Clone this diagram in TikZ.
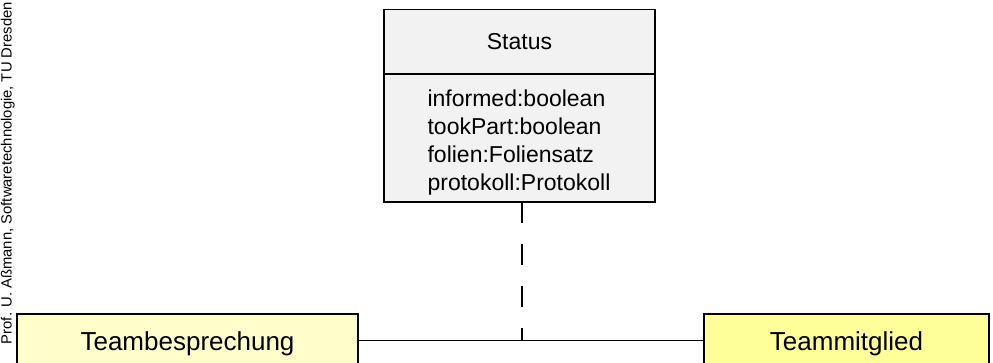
\documentclass[tikz,border=0pt]{standalone}
\usepackage{fontspec}
\setmainfont{Liberation Sans}
\definecolor{classgray}{HTML}{F2F2F2}
\definecolor{paleyellow}{HTML}{FFFFCC}
\definecolor{lightyellow}{HTML}{FFFF99}
\begin{document}
\begin{tikzpicture}[x=1bp,y=-1bp,
  classbox/.style={draw=black, line width=1.5bp, inner sep=0pt, outer sep=0pt},
  titlefont/.style={font=\fontsize{23bp}{28.3bp}\selectfont},
  bigclass/.style={classbox, font=\fontsize{26bp}{30bp}\selectfont,
                   minimum height=53.4bp, text height=18.6bp, text depth=0pt},
  assoc/.style={line width=1.3bp},
  assocclass/.style={line width=1.5bp, dash pattern=on 20.5bp off 21.5bp}]
\clip (0,0) rectangle (993,362);

% association class Status: name compartment and attribute compartment
\node[classbox, titlefont, fill=classgray, minimum width=271bp, minimum height=64.5bp]
  (stitle) at (519.5,41.75) {Status};
\node[classbox, fill=classgray, anchor=north, minimum width=271bp, minimum height=128bp]
  (sattr) at (stitle.south) {};
\node[titlefont, align=left, inner sep=0pt] (attrs) at (519,142.5)
  {informed:boolean\\tookPart:boolean\\folien:Foliensatz\\protokoll:Protokoll};

% the two associated classes
\node[bigclass, fill=paleyellow, minimum width=341bp] (tb) at (187.5,340.7) {Teambesprechung};
\node[bigclass, fill=lightyellow, minimum width=285bp] (tm) at (846.5,340.7) {Teammitglied};

% association and its link to the association class
\draw[assoc] (tb.east) -- (tm.west);
\coordinate (link) at (522,340.7);
\draw[assocclass] (sattr.south -| link) -- (link);

% vertical credit line
\node[rotate=90, anchor=base east, inner sep=0pt, font=\fontsize{14.8bp}{17bp}\selectfont]
  (credit) at (11.5,2) {Prof. U. Aßmann, Softwaretechnologie, TU Dresden};
\end{tikzpicture}
\end{document}
